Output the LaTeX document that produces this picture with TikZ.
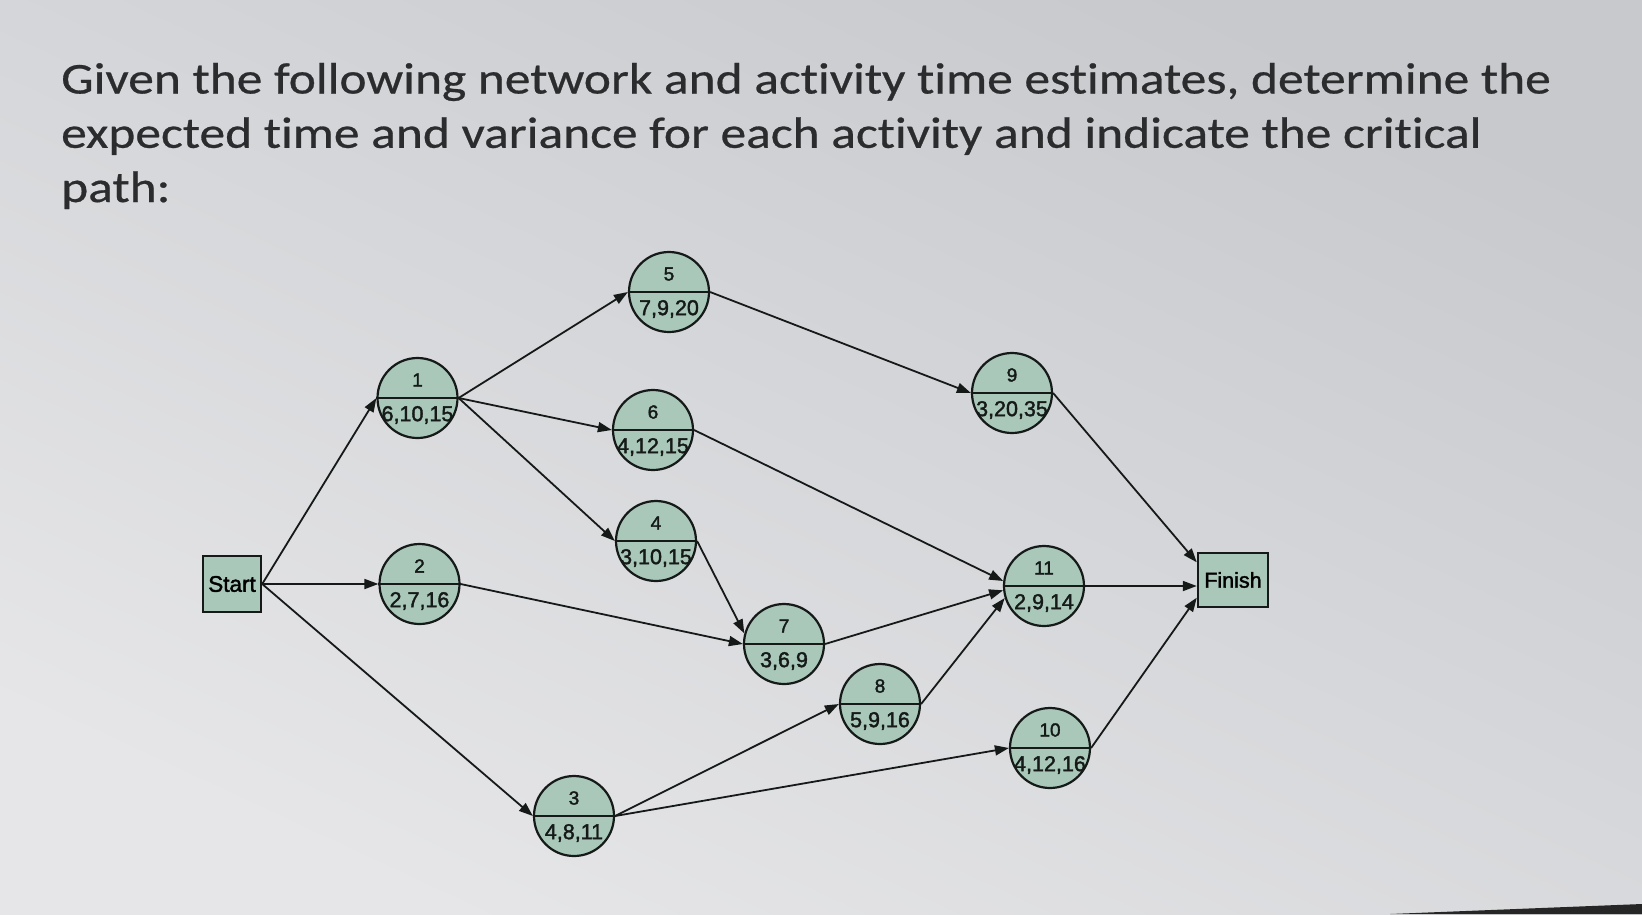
\documentclass[tikz,border=0pt]{standalone}
\usepackage{fontspec}
\setmainfont{Liberation Sans}
\newfontfamily\titlefont{Carlito}[FakeStretch=1.17, FakeBold=0.6, Ligatures=NoCommon]
\newfontfamily\nodefont{Liberation Sans}[FakeBold=1.8]
\usetikzlibrary{arrows.meta,calc}
\definecolor{bgtop}{HTML}{C7C9CD}
\definecolor{bgbot}{HTML}{E6E6E8}
\definecolor{nodefill}{HTML}{A9C8BA}
\definecolor{ink}{HTML}{151A18}
\definecolor{titleink}{HTML}{2A2C2D}
\tikzset{
  title/.style={anchor=base west, inner sep=0pt, text=titleink, font=\titlefont\fontsize{44}{53}\selectfont},
  act/.style={circle, draw=ink, line width=2.2pt, fill=nodefill, minimum size=80pt, inner sep=0pt},
  endbox/.style={rectangle, draw=ink, line width=2.4pt, fill=nodefill, inner sep=0pt},
  divider/.style={draw=ink, line width=2.6pt},
  toptxt/.style={inner sep=0pt, text=ink, font=\nodefont\fontsize{19}{21}\selectfont},
  bottxt/.style={inner sep=0pt, text=ink, font=\nodefont\fontsize{21.5}{23}\selectfont},
  conn/.style={draw=ink, line width=1.8pt, -{Triangle[length=14pt,width=10pt]}},
}
\newcommand\actnode[5]{%
  \node[act] (#1) at (#2,#3) {};
  \draw[divider] (#1.west) -- (#1.east);
  \node[toptxt] (#1t) at ($(#1)+(0,-18)$) {#4};
  \node[bottxt] (#1b) at ($(#1)+(0,17)$) {#5};
}
\begin{document}
\begin{tikzpicture}[x=1pt,y=-1pt]
\useasboundingbox (0,0) rectangle (1642,914);
\shade[top color=bgtop, bottom color=bgbot, shading angle=-25] (0,0) rectangle (1642,914);
\fill[black!85] (1390,914) -- (1642,904) -- (1642,914) -- cycle;

\node[title] (t1) at (61,93.5) {Given the following network and activity time estimates, determine the};
\node[title] (t2) at (61,147.8) {expected time and variance for each activity and indicate the critical};
\node[title] (t3) at (61,202) {path:};

\node[endbox, minimum width=58pt, minimum height=56pt, font=\nodefont\fontsize{22.5}{24}\selectfont] (start) at (232,584) {Start};
\node[endbox, minimum width=70pt, minimum height=54pt, font=\nodefont\fontsize{21.5}{24}\selectfont] (finish) at (1233,580) {Finish};

\actnode{n1}{417.5}{398}{1}{6,10,15}
\actnode{n2}{419.5}{584}{2}{2,7,16}
\actnode{n3}{574}{816}{3}{4,8,11}
\actnode{n4}{656}{541}{4}{3,10,15}
\actnode{n5}{669}{292}{5}{7,9,20}
\actnode{n6}{653}{430}{6}{4,12,15}
\actnode{n7}{784}{644}{7}{3,6,9}
\actnode{n8}{880}{704}{8}{5,9,16}
\actnode{n9}{1012}{393}{9}{3,20,35}
\actnode{n10}{1050}{748}{10}{4,12,16}
\actnode{n11}{1044}{586}{11}{2,9,14}

\draw[conn] (start.east) -- (n1.west);
\draw[conn] (start.east) -- (n2.west);
\draw[conn] (start.east) -- (n3.west);
\draw[conn] (n1.east) -- (n5.west);
\draw[conn] (n1.east) -- (n6.west);
\draw[conn] (n1.east) -- (n4.west);
\draw[conn] (n5.east) -- (n9.west);
\draw[conn] (n6.east) -- (n11.173);
\draw[conn] (n4.east) -- (n7.165);
\draw[conn] (n2.east) -- (n7.west);
\draw[conn] (n7.east) -- (n11.186);
\draw[conn] (n3.east) -- (n8.west);
\draw[conn] (n3.east) -- (n10.west);
\draw[conn] (n8.east) -- (n11.197);
\draw[conn] (n9.east) -- (finish.154);
\draw[conn] (n11.east) -- (n11.east -| finish.west);
\draw[conn] (n10.east) -- (finish.206);
\end{tikzpicture}
\end{document}
